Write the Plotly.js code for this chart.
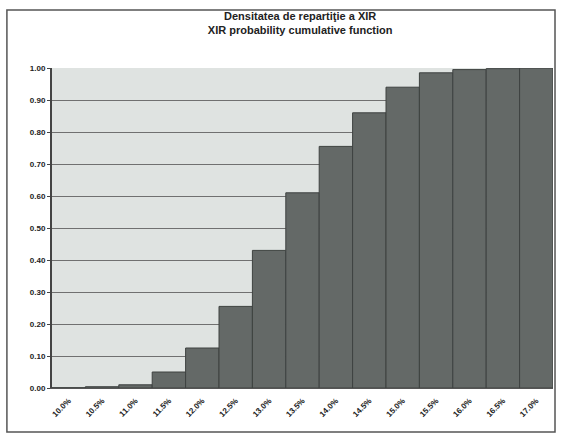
<!DOCTYPE html>
<html>
<head>
<meta charset="utf-8">
<script src="https://cdn.plot.ly/plotly-3.0.1.min.js"></script>
<style>
html,body{margin:0;padding:0;background:#fff;}
#chart{width:561px;height:438px;}
</style>
</head>
<body>
<div id="chart"></div>
<script>
// Category labels (XIR values)
var categories = ["10.0%","10.5%","11.0%","11.5%","12.0%","12.5%","13.0%","13.5%","14.0%","14.5%","15.0%","15.5%","16.0%","16.5%","17.0%"];
// Cumulative probability values
var cumulative = [0.001, 0.004, 0.01, 0.05, 0.125, 0.255, 0.43, 0.61, 0.755, 0.86, 0.94, 0.985, 0.995, 0.998, 1.0];
// Y tick values/labels
var yTicks = [0, 0.1, 0.2, 0.3, 0.4, 0.5, 0.6, 0.7, 0.8, 0.9, 1.0];
var yTickLabels = ["0.00","0.10","0.20","0.30","0.40","0.50","0.60","0.70","0.80","0.90","1.00"];

var trace = {
  type: "bar",
  x: categories,
  y: cumulative,
  marker: {color: "#646967", line: {color: "#3e4240", width: 1}},
  hoverinfo: "x+y"
};

var layout = {
  width: 561,
  height: 438,
  margin: {l: 52, r: 8, t: 68, b: 50},
  paper_bgcolor: "#ffffff",
  plot_bgcolor: "#dfe3e1",
  bargap: 0,
  showlegend: false,
  font: {family: "Liberation Sans, Arial, sans-serif", color: "#222"},
  title: {
    text: "<b>Densitatea de repartiţie a XIR<br>XIR probability cumulative function</b>",
    font: {size: 11, color: "#222"},
    x: 0.535, xanchor: "center",
    y: 0.955, yanchor: "top"
  },
  xaxis: {
    type: "category",
    tickangle: -45,
    tickfont: {size: 8, color: "#222", weight: "bold"},
    showline: true, linecolor: "#555", linewidth: 1,
    ticks: "outside", ticklen: 4, tickcolor: "#fff", showgrid: false
  },
  yaxis: {
    range: [0, 1.0],
    tickvals: yTicks,
    ticktext: yTickLabels,
    tickfont: {size: 8, color: "#222", weight: "bold"},
    showline: true, linecolor: "#444", linewidth: 2,
    ticks: "outside", ticklen: 3, tickcolor: "#444",
    showgrid: true, gridcolor: "#707070", gridwidth: 1,
    zeroline: false
  },
  shapes: [{
    type: "rect", xref: "paper", yref: "paper",
    x0: -0.09, x1: 1.004, y0: -0.1375, y1: 1.181,
    line: {color: "#555", width: 1.5}, fillcolor: "rgba(0,0,0,0)", layer: "below"
  }]
};

Plotly.newPlot("chart", [trace], layout, {displayModeBar: false, staticPlot: true});
</script>
</body>
</html>
